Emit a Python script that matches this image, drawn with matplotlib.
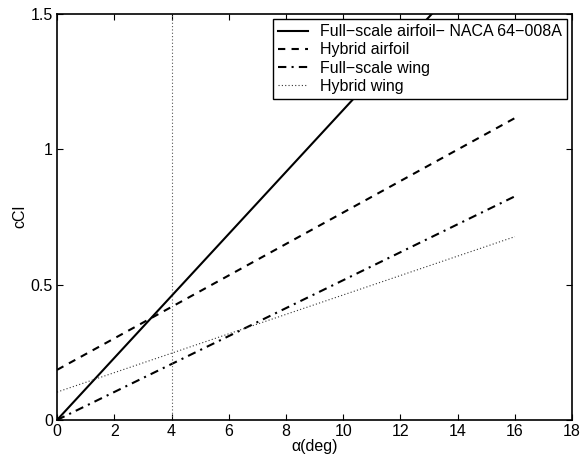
import matplotlib
matplotlib.use("Agg")
import matplotlib.pyplot as plt

alpha = [0, 16]
full_airfoil = [0.0, 1.832]
hybrid_airfoil = [0.185, 1.115]
full_wing = [0.0, 0.826]
hybrid_wing = [0.103, 0.677]
vline_x = 4
labels = ["Full\u2212scale airfoil\u2212 NACA 64\u2212008A", "Hybrid airfoil",
          "Full\u2212scale wing", "Hybrid wing"]
xticks = [0, 2, 4, 6, 8, 10, 12, 14, 16, 18]
yticks = [0, 0.5, 1, 1.5]
yticklabels = ["0", "0.5", "1", "1.5"]

plt.rcParams['font.family'] = ['Liberation Sans', 'DejaVu Sans']
plt.rcParams['font.size'] = 11.5

fig = plt.figure(figsize=(5.88, 4.61), dpi=100)
ax = fig.add_axes([0.097, 0.089, 0.876, 0.881])

ax.plot(alpha, full_airfoil, color='black', lw=1.5, ls='-', label=labels[0])
ax.plot(alpha, hybrid_airfoil, color='black', lw=1.5, ls=(0, (3.5, 3)), label=labels[1])
ax.plot(alpha, full_wing, color='black', lw=1.5, ls=(0, (4, 2.5, 1, 2.5)), label=labels[2])
ax.plot(alpha, hybrid_wing, color='#333333', lw=0.8, ls=(0, (1, 2)), label=labels[3])
ax.axvline(vline_x, color='#555555', lw=0.8, ls=(0, (1, 2)))

ax.set_xlim(0, 18)
ax.set_ylim(0, 1.5)
ax.set_xticks(xticks)
ax.set_yticks(yticks)
ax.set_yticklabels(yticklabels)
ax.tick_params(direction='in', top=True, right=True, length=4, width=0.8, pad=3)
for s in ax.spines.values():
    s.set_linewidth(1.2)

ax.set_xlabel("\u03b1(deg)", labelpad=0)
ax.set_ylabel("cCl", labelpad=2)

leg = ax.legend(loc='upper right', fancybox=False, framealpha=1, edgecolor='black',
                borderpad=0.3, labelspacing=0.2, handlelength=1.9, handletextpad=0.75,
                borderaxespad=0.35, fontsize=11.5)
leg.get_frame().set_linewidth(1.0)

fig.savefig("out.png", dpi=100)
